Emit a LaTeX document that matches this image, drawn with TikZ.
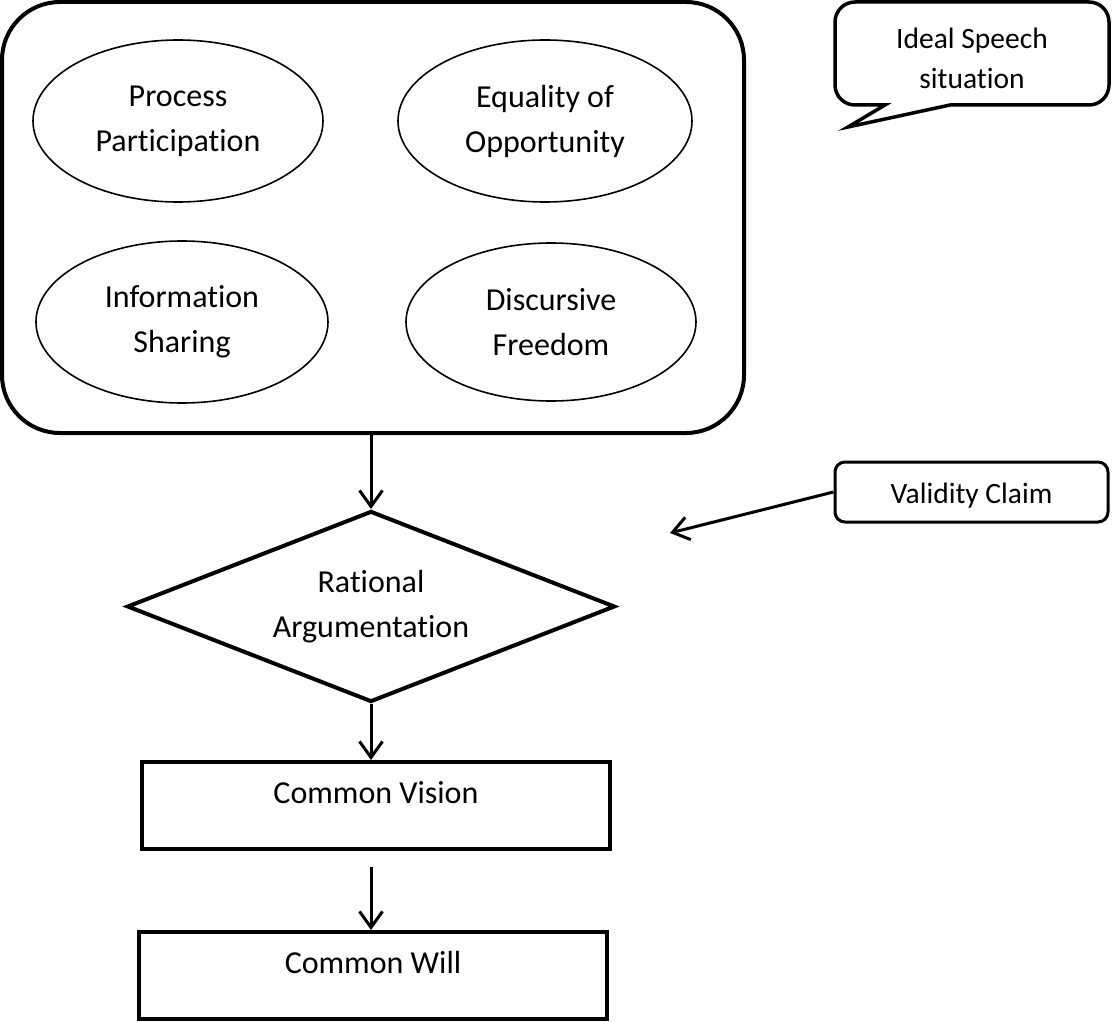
\documentclass[tikz,border=0pt]{standalone}
\usepackage{fontspec}
\setmainfont{Carlito}[Ligatures={NoCommon}]
\usetikzlibrary{shapes.geometric,arrows.meta}
\begin{document}
\begin{tikzpicture}[x=1pt,y=-1pt,
  mainfont/.style={font=\fontsize{32pt}{45pt}\selectfont},
  smallfont/.style={font=\fontsize{29.5pt}{40pt}\selectfont},
  ell/.style={draw, ellipse, line width=1.6pt, inner sep=0pt, align=center, mainfont, minimum width=290pt, minimum height=162pt},
  boxnode/.style={draw, rectangle, line width=4pt, inner sep=0pt, mainfont, minimum width=468pt, minimum height=87pt, text height=22pt, text depth=26pt},
  arr/.style={line width=3pt, -{Straight Barb[length=16pt,width=23pt,line width=3pt]}},
  bubbleline/.style={line width=3.5pt, line join=miter}
]
\useasboundingbox (0,0) rectangle (1112,1022);

% big rounded container
\node[draw, rectangle, rounded corners=58pt, line width=4pt, inner sep=0pt,
      minimum width=742pt, minimum height=431pt] (ideal) at (373,217.5) {};

% ellipses
\node[ell] (pp) at (178,121) {Process\\Participation};
\node[ell, minimum width=294pt] (eo) at (545,121) {Equality of\\Opportunity};
\node[ell, minimum width=292pt] (is) at (182,322) {Information\\Sharing};
\node[ell, minimum height=158pt] (df) at (551,322) {Discursive\\Freedom};

% diamond
\node[draw, diamond, aspect=2.55, line width=4pt, inner sep=0pt, align=center, mainfont,
      minimum width=488pt, minimum height=191pt] (ra) at (371,606.5) {Rational\\Argumentation};

% rectangles
\node[boxnode] (cv) at (376,805.5) {Common Vision};
\node[boxnode] (cw) at (373,975.5) {Common Will};

% validity claim
\node[draw, rectangle, rounded corners=10pt, line width=3pt, inner sep=0pt, smallfont,
      minimum width=273pt, minimum height=60pt, text height=26pt, text depth=4pt] (vc) at (971.5,492) {Validity Claim};
\coordinate (vt) at (670,533);

% speech bubble
\draw[bubbleline] (885,105) [rounded corners=20pt] -- (835,105) -- (835,2) -- (1109,2) -- (1109,105) -- (1000,105)
      [sharp corners] -- (950,105) -- (848,127) -- cycle;
\node[smallfont, align=center, inner sep=0pt] (ist) at (972,58) {Ideal Speech\\situation};

% connectors
\draw[arr] (ra.north |- ideal.south) -- (ra.north);
\draw[arr] (ra.south) -- (ra.south |- cv.north);
\draw[arr] ([yshift=-16pt]ra.south |- cv.south) -- (ra.south |- cw.north);
\draw[arr] (vc.west) -- (vt);
\end{tikzpicture}
\end{document}
